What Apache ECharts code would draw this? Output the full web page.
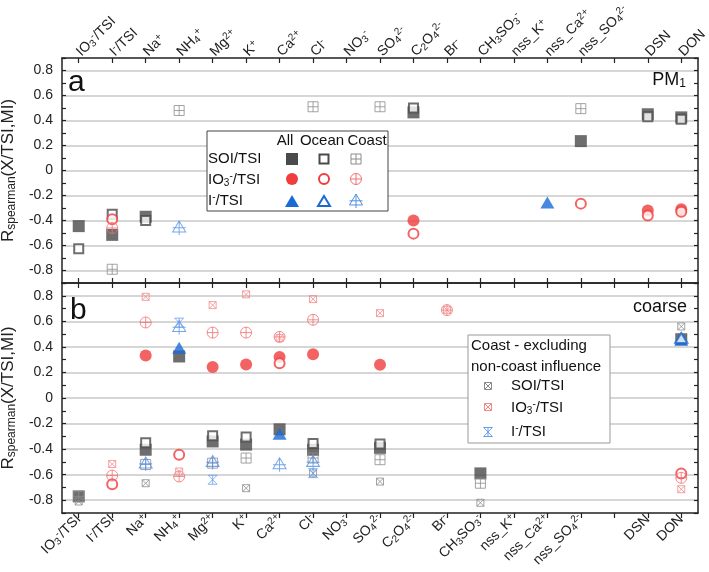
<!DOCTYPE html>
<html>
<head>
<meta charset="utf-8">
<script src="https://cdn.jsdelivr.net/npm/echarts@6/dist/echarts.min.js"></script>
<style>html,body{margin:0;padding:0;background:#fff;}#c{width:709px;height:572px;}</style>
</head>
<body>
<div id="c"></div>
<script>
const N = null;
const categories = ['IO3-/TSI','I-/TSI','Na+','NH4+','Mg2+','K+','Ca2+','Cl-','NO3-','SO42-','C2O42-','Br-','CH3SO3-','nss_K+','nss_Ca2+','nss_SO42-',' ','DSN','DON'];
const tickLabels = ['IO{sub|3}{sup|-}/TSI','I{sup|-}/TSI','Na{sup|+}','NH{sub|4}{sup|+}','Mg{sup|2+}','K{sup|+}','Ca{sup|2+}','Cl{sup|-}','NO{sub|3}{sup|-}','SO{sub|4}{sup|2-}','C{sub|2}O{sub|4}{sup|2-}','Br{sup|-}','CH{sub|3}SO{sub|3}{sup|-}','nss_K{sup|+}','nss_Ca{sup|2+}','nss_SO{sub|4}{sup|2-}','','DSN','DON'];

// Panel a (PM1)
const a_SOI_all   = [-0.445,-0.515,-0.37,N,N,N,N,N,N,N,0.465,N,N,N,N,0.235,N,0.45,0.425];
const a_SOI_ocean = [-0.625,-0.35,-0.40,N,N,N,N,N,N,N,0.50,N,N,N,N,N,N,0.43,0.41];
const a_SOI_coast = [N,-0.79,N,0.48,N,N,N,0.51,N,0.51,N,N,N,N,N,0.495,N,N,N];
const a_IO3_all   = [N,N,N,N,N,N,N,N,N,N,-0.40,N,N,N,N,N,N,-0.32,-0.31];
const a_IO3_ocean = [N,-0.39,N,N,N,N,N,N,N,N,-0.505,N,N,N,N,-0.265,N,-0.36,-0.33];
const a_IO3_coast = [N,-0.46,N,N,N,N,N,N,N,N,N,N,N,N,N,N,N,N,N];
const a_I_all     = [N,N,N,N,N,N,N,N,N,N,N,N,N,N,-0.255,N,N,N,N];
const a_I_ocean   = [N,N,N,N,N,N,N,N,N,N,N,N,N,N,N,N,N,N,N];
const a_I_coast   = [N,N,N,-0.46,N,N,N,N,N,N,N,N,N,N,N,N,N,N,N];

// Panel b (coarse)
const b_SOI_all   = [-0.77,N,-0.405,0.325,-0.34,-0.365,-0.245,-0.405,N,-0.39,N,N,-0.59,N,N,N,N,N,0.46];
const b_SOI_ocean = [N,N,-0.35,N,-0.295,-0.305,N,-0.357,N,-0.36,N,N,N,N,N,N,N,N,N];
const b_SOI_coast = [-0.77,N,-0.52,N,-0.51,-0.47,N,-0.47,N,-0.483,N,N,-0.667,N,N,N,N,N,N];
const b_SOI_excl  = [-0.81,N,-0.667,N,N,-0.706,N,-0.59,N,-0.654,N,N,-0.82,N,N,N,N,N,0.56];
const b_IO3_all   = [N,N,0.332,N,0.242,0.263,0.321,0.342,N,0.261,N,N,N,N,N,N,N,N,N];
const b_IO3_ocean = [N,-0.675,N,-0.444,N,N,0.271,N,N,N,N,N,N,N,N,N,N,N,-0.59];
const b_IO3_coast = [N,-0.607,0.591,-0.614,0.512,0.512,0.478,0.612,N,N,N,0.688,N,N,N,N,N,N,-0.625];
const b_IO3_excl  = [N,-0.517,0.792,-0.575,0.727,0.811,0.47,0.774,N,0.664,N,0.69,N,N,N,N,N,N,-0.714];
const b_I_all     = [N,N,N,0.394,N,N,-0.279,N,N,N,N,N,N,N,N,N,N,N,0.455];
const b_I_ocean   = [N,N,N,N,N,N,N,N,N,N,N,N,N,N,N,N,N,N,0.47];
const b_I_coast   = [N,N,-0.517,0.552,-0.504,N,-0.523,-0.504,N,N,N,N,N,N,N,N,N,N,N];
const b_I_excl    = [N,N,N,0.59,-0.64,N,N,-0.588,N,N,N,N,N,N,N,N,N,N,N];

const FONT = 'Liberation Sans, Arial, sans-serif';
const GRAY = '#4a4a4a', GRAYL = '#8c8c8c';
const RED = '#f03c3c', REDL = '#f27070', REDX = '#f28a8a';
const BLUE = '#1a6ad6', BLUEL = '#5190e6', BLUEX = '#6aa0ec';

const P_SQCROSS = 'M0,0L10,0L10,10L0,10Z M5,0L5,10 M0,5L10,5';
const P_CIRCROSS = 'M0,5A5,5,0,1,1,10,5A5,5,0,1,1,0,5Z M5,0L5,10 M0,5L10,5';
const P_TRICROSS = 'M5,0L10,9L0,9Z M5,0L5,11.5 M0,5.6L10,5.6';
const P_SQX = 'M0,0L10,0L10,10L0,10Z M0,0L10,10 M10,0L0,10';
const P_HOURX = 'M0,0L10,0 M0,10L10,10 M0,0L10,10 M10,0L0,10 M5,0L5,10';

const styles = {
  SOI_all:   {symbol:'rect', size:12, item:{color:GRAY}},
  SOI_ocean: {symbol:'rect', size:9, item:{color:'#fff', borderColor:GRAY, borderWidth:2}},
  SOI_coast: {symbol:'path://'+P_SQCROSS, size:10, item:{color:'rgba(0,0,0,0)', borderColor:GRAYL, borderWidth:1}},
  SOI_excl:  {symbol:'path://'+P_SQX, size:7, item:{color:'rgba(0,0,0,0)', borderColor:GRAYL, borderWidth:1}},
  IO3_all:   {symbol:'circle', size:12, item:{color:RED}},
  IO3_ocean: {symbol:'circle', size:10, item:{color:'#fff', borderColor:RED, borderWidth:2}},
  IO3_coast: {symbol:'path://'+P_CIRCROSS, size:11, item:{color:'rgba(0,0,0,0)', borderColor:REDL, borderWidth:1}},
  IO3_excl:  {symbol:'path://'+P_SQX, size:7, item:{color:'rgba(0,0,0,0)', borderColor:REDX, borderWidth:1}},
  I_all:     {symbol:'triangle', size:[14,12], item:{color:BLUE}},
  I_ocean:   {symbol:'triangle', size:[12,10], item:{color:'#fff', borderColor:BLUE, borderWidth:2}},
  I_coast:   {symbol:'path://'+P_TRICROSS, size:[13,14], item:{color:'rgba(0,0,0,0)', borderColor:BLUEL, borderWidth:1}},
  I_excl:    {symbol:'path://'+P_HOURX, size:9, item:{color:'rgba(0,0,0,0)', borderColor:BLUEX, borderWidth:1}}
};

function toPairs(arr){ const out=[]; arr.forEach((v,i)=>{ if(v!==null) out.push([i,v]); }); return out; }

function mkSeries(name, arr, key, panel){
  const s = styles[key];
  return {
    name, type:'scatter', xAxisIndex: panel===0?0:3, yAxisIndex: panel===0?0:2,
    data: toPairs(arr), symbol: s.symbol, symbolSize: s.size, itemStyle: s.item,
    emphasis:{disabled:true}, silent:true, animation:false, z:3
  };
}

const richLab = {
  sub:{fontSize:10, verticalAlign:'bottom', fontFamily:FONT, color:'#222', padding:[6,0,0,0]},
  sup:{fontSize:10, verticalAlign:'top', fontFamily:FONT, color:'#222', padding:[0,0,6,0]}
};

function xAx(gridIndex, position, showLabel, tickInside){
  return {
    type:'category', gridIndex, position, data:categories, boundaryGap:true,
    axisLine:{show:true, onZero:false, lineStyle:{color:'#222', width:1.5}},
    axisTick:{show:true, alignWithLabel:true, inside:tickInside, length:5, lineStyle:{color:'#222', width:1.2}},
    axisLabel:{show:showLabel, interval:0, rotate: position==='top' ? -45 : 45, margin:4, fontSize:14, fontFamily:FONT, color:'#222',
      formatter:(v,i)=>tickLabels[i], rich:richLab},
    splitLine:{show:false}
  };
}
function yAx(gridIndex, position, showLabel){
  const ax = {
    type:'value', gridIndex, position, min:-0.9, max:0.9, interval:0.1,
    axisLine:{show:true, onZero:false, lineStyle:{color:'#222', width:1.5}},
    axisTick:{show:true, inside:true, length:4, lineStyle:{color:'#222', width:1.2}},
    axisLabel:{show:showLabel, margin:9, fontSize:14, fontFamily:FONT, color:'#222',
      formatter:(v)=>{ const k=Math.round(v*10); if(k%2!==0||Math.abs(k)>8) return ''; return String(k/10); }},
    splitLine:{show:showLabel, lineStyle:{color:['rgba(0,0,0,0)','#c8c8c8'], width:1.5}}
  };
  if(showLabel){
    ax.name = '{r|R}{s|spearman}{r|(X/TSI,MI)}';
    ax.nameLocation = 'middle';
    ax.nameGap = 29;
    ax.nameRotate = 90;
    ax.nameTextStyle = {rich:{
      r:{fontSize:17, fontFamily:FONT, color:'#222'},
      s:{fontSize:12, fontFamily:FONT, color:'#222', verticalAlign:'bottom', padding:[8,0,0,0]}
    }};
  }
  return ax;
}

// Legend helpers (graphic, composed from primitives)
function ln(x1,y1,x2,y2,stroke,lw){ return {type:'line', shape:{x1,y1,x2,y2}, style:{stroke, lineWidth:lw}, z:21}; }
function gMarker(key, x, y){
  const s = styles[key];
  const sz = Array.isArray(s.size)? s.size : [s.size, s.size];
  const fill = s.item.color, stroke = s.item.borderColor || null, lw = s.item.borderWidth || 0;
  const w = sz[0], h = sz[1], l = x-w/2, t = y-h/2;
  switch(key){
    case 'SOI_all': case 'SOI_ocean':
      return [{type:'rect', shape:{x:l, y:t, width:w, height:h}, style:{fill, stroke, lineWidth:lw}, z:20}];
    case 'IO3_all': case 'IO3_ocean':
      return [{type:'circle', shape:{cx:x, cy:y, r:w/2}, style:{fill, stroke, lineWidth:lw}, z:20}];
    case 'I_all': case 'I_ocean':
      return [{type:'polygon', shape:{points:[[x, t],[x+w/2, t+h],[x-w/2, t+h]]}, style:{fill, stroke, lineWidth:lw}, z:20}];
    case 'SOI_coast':
      return [{type:'rect', shape:{x:l, y:t, width:w, height:h}, style:{fill:'none', stroke, lineWidth:lw}, z:20},
        ln(x,t,x,t+h,stroke,lw), ln(l,y,l+w,y,stroke,lw)];
    case 'IO3_coast':
      return [{type:'circle', shape:{cx:x, cy:y, r:w/2}, style:{fill:'none', stroke, lineWidth:lw}, z:20},
        ln(x,t,x,t+h,stroke,lw), ln(l,y,l+w,y,stroke,lw)];
    case 'I_coast': {
      const th = h*9/11.5;
      return [{type:'polygon', shape:{points:[[x, t],[x+w/2, t+th],[x-w/2, t+th]]}, style:{fill:'none', stroke, lineWidth:lw}, z:20},
        ln(x,t,x,t+h,stroke,lw), ln(l,t+h*5.6/11.5,l+w,t+h*5.6/11.5,stroke,lw)];
    }
    case 'SOI_excl': case 'IO3_excl':
      return [{type:'rect', shape:{x:l, y:t, width:w, height:h}, style:{fill:'none', stroke, lineWidth:lw}, z:20},
        ln(l,t,l+w,t+h,stroke,lw), ln(l+w,t,l,t+h,stroke,lw)];
    case 'I_excl':
      return [ln(l,t,l+w,t,stroke,lw), ln(l,t+h,l+w,t+h,stroke,lw), ln(l,t,l+w,t+h,stroke,lw), ln(l+w,t,l,t+h,stroke,lw), ln(x,t,x,t+h,stroke,lw)];
  }
  return [];
}
function gText(text, x, y, size, align){
  return {type:'text', x, y, z:20, style:{text, fontSize:size, fontFamily:FONT, fill:'#111', align:align||'left', verticalAlign:'middle',
    rich:{ sub:{fontSize:Math.round(size*0.65), fontFamily:FONT, fill:'#111', verticalAlign:'bottom', padding:[7,0,0,0]},
           sup:{fontSize:Math.round(size*0.65), fontFamily:FONT, fill:'#111', verticalAlign:'top', padding:[0,0,7,0]},
           n:{fontSize:size, fontFamily:FONT, fill:'#111'} }}};
}

const graphics = [
  gText('a', 68, 83, 30, 'left'),
  gText('b', 70, 311, 30, 'left'),
  gText('{n|PM}{sub|1}', 686, 80, 18, 'right'),
  gText('coarse', 687, 307, 18, 'right'),
  // legend a
  {type:'rect', shape:{x:207, y:131, width:181, height:80}, style:{fill:'#fff', stroke:'#444', lineWidth:1}, z:15},
  gText('All', 285, 141, 15, 'center'),
  gText('Ocean', 322, 141, 15, 'center'),
  gText('Coast', 367, 141, 15, 'center'),
  gText('SOI/TSI', 208, 159, 15, 'left'),
  gText('{n|IO}{sub|3}{sup|-}{n|/TSI}', 208, 180, 15, 'left'),
  gText('{n|I}{sup|-}{n|/TSI}', 208, 201, 15, 'left'),
  ...gMarker('SOI_all', 292, 159), ...gMarker('SOI_ocean', 324, 159), ...gMarker('SOI_coast', 356, 159),
  ...gMarker('IO3_all', 292, 179), ...gMarker('IO3_ocean', 324, 179), ...gMarker('IO3_coast', 356, 179),
  ...gMarker('I_all', 292, 201), ...gMarker('I_ocean', 324, 201), ...gMarker('I_coast', 356, 201),
  // legend b
  {type:'rect', shape:{x:468, y:335, width:142, height:108}, style:{fill:'#fff', stroke:'#999', lineWidth:1}, z:15},
  gText('Coast - excluding', 471, 346, 15, 'left'),
  gText('non-coast influence', 471, 367, 15, 'left'),
  ...gMarker('SOI_excl', 488, 386), ...gMarker('IO3_excl', 488, 407), ...gMarker('I_excl', 488, 432),
  gText('SOI/TSI', 511, 386, 15, 'left'),
  gText('{n|IO}{sub|3}{sup|-}{n|/TSI}', 511, 408, 15, 'left'),
  gText('{n|I}{sup|-}{n|/TSI}', 511, 432, 15, 'left')
];

const series = [
  mkSeries('a SOI all', a_SOI_all, 'SOI_all', 0),
  mkSeries('a SOI ocean', a_SOI_ocean, 'SOI_ocean', 0),
  mkSeries('a SOI coast', a_SOI_coast, 'SOI_coast', 0),
  mkSeries('a IO3 all', a_IO3_all, 'IO3_all', 0),
  mkSeries('a IO3 ocean', a_IO3_ocean, 'IO3_ocean', 0),
  mkSeries('a IO3 coast', a_IO3_coast, 'IO3_coast', 0),
  mkSeries('a I all', a_I_all, 'I_all', 0),
  mkSeries('a I ocean', a_I_ocean, 'I_ocean', 0),
  mkSeries('a I coast', a_I_coast, 'I_coast', 0),
  mkSeries('b SOI all', b_SOI_all, 'SOI_all', 1),
  mkSeries('b SOI ocean', b_SOI_ocean, 'SOI_ocean', 1),
  mkSeries('b SOI coast', b_SOI_coast, 'SOI_coast', 1),
  mkSeries('b IO3 all', b_IO3_all, 'IO3_all', 1),
  mkSeries('b IO3 ocean', b_IO3_ocean, 'IO3_ocean', 1),
  mkSeries('b IO3 coast', b_IO3_coast, 'IO3_coast', 1),
  mkSeries('b I all', b_I_all, 'I_all', 1),
  mkSeries('b I ocean', b_I_ocean, 'I_ocean', 1),
  mkSeries('b I coast', b_I_coast, 'I_coast', 1),
  mkSeries('b SOI excl', b_SOI_excl, 'SOI_excl', 1),
  mkSeries('b IO3 excl', b_IO3_excl, 'IO3_excl', 1),
  mkSeries('b I excl', b_I_excl, 'I_excl', 1)
];

const chart = echarts.init(document.getElementById('c'), null, {renderer:'canvas'});
chart.setOption({
  animation:false,
  backgroundColor:'#fff',
  textStyle:{fontFamily:FONT},
  grid:[
    {left:62, right:11, top:58, height:225, containLabel:false, outerBoundsMode:'none'},
    {left:62, right:11, top:283, height:230, containLabel:false, outerBoundsMode:'none'}
  ],
  xAxis:[ xAx(0,'top',true,true), xAx(0,'bottom',false,true), xAx(1,'top',false,true), xAx(1,'bottom',true,false) ],
  yAxis:[ yAx(0,'left',true), yAx(0,'right',false), yAx(1,'left',true), yAx(1,'right',false) ],
  series,
  graphic: graphics
});
</script>
</body>
</html>
